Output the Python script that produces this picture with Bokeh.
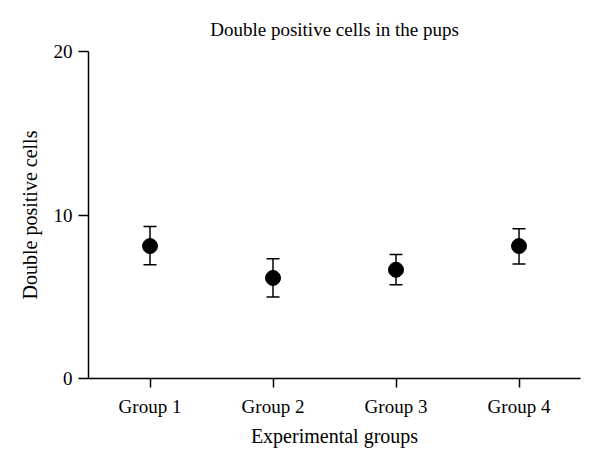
from bokeh.plotting import figure
from bokeh.models import ColumnDataSource, FactorRange, Range1d, Whisker, TeeHead, FixedTicker
from bokeh.embed import file_html
from bokeh.resources import INLINE

groups = ["Group 1", "Group 2", "Group 3", "Group 4"]
means = [8.1, 6.15, 6.65, 8.1]
upper = [9.3, 7.32, 7.58, 9.16]
lower = [6.95, 4.98, 5.73, 7.01]
y_ticks = [0, 10, 20]
title_text = "Double positive cells in the pups"

src = ColumnDataSource(dict(g=groups, m=means, up=upper, lo=lower))

FONT = "Liberation Serif"

p = figure(width=592, height=461, x_range=FactorRange(*groups, range_padding=0),
           y_range=Range1d(0, 20), output_backend="svg", toolbar_location=None,
           min_border_left=88, min_border_right=12, min_border_top=51, min_border_bottom=83,
           title=title_text)
p.title.align = "center"
p.title.vertical_align = "top"
p.title.text_font = FONT
p.title.text_font_size = "19px"
p.title.text_font_style = "normal"
p.title.text_color = "black"
p.title.standoff = 20

p.outline_line_color = None
p.grid.visible = False

for ax in (p.xaxis[0], p.yaxis[0]):
    ax.axis_line_width = 1.5
    ax.axis_line_color = "black"
    ax.major_tick_line_width = 1.5
    ax.major_tick_line_color = "black"
    ax.major_tick_in = 0
    ax.minor_tick_line_color = None
    ax.major_label_text_font = FONT
    ax.major_label_text_font_size = "19px"
    ax.major_label_text_color = "black"
    ax.axis_label_text_font = FONT
    ax.axis_label_text_font_size = "20px"
    ax.axis_label_text_font_style = "normal"
    ax.axis_label_text_color = "black"

p.yaxis[0].ticker = FixedTicker(ticks=y_ticks)
p.yaxis[0].major_tick_out = 10
p.yaxis[0].major_label_standoff = 6
p.yaxis[0].axis_label = "Double positive cells"
p.yaxis[0].axis_label_standoff = 10
p.xaxis[0].major_tick_out = 9
p.xaxis[0].major_label_standoff = 8
p.xaxis[0].axis_label = "Experimental groups"
p.xaxis[0].axis_label_standoff = 5

w = Whisker(source=src, base="g", upper="up", lower="lo", line_width=1.5, line_color="black",
            upper_head=TeeHead(size=13, line_width=1.5, line_color="black"),
            lower_head=TeeHead(size=13, line_width=1.5, line_color="black"))
p.add_layout(w)
p.scatter(x="g", y="m", source=src, size=15, color="black")

open("out.html", "w").write(file_html(p, INLINE))
